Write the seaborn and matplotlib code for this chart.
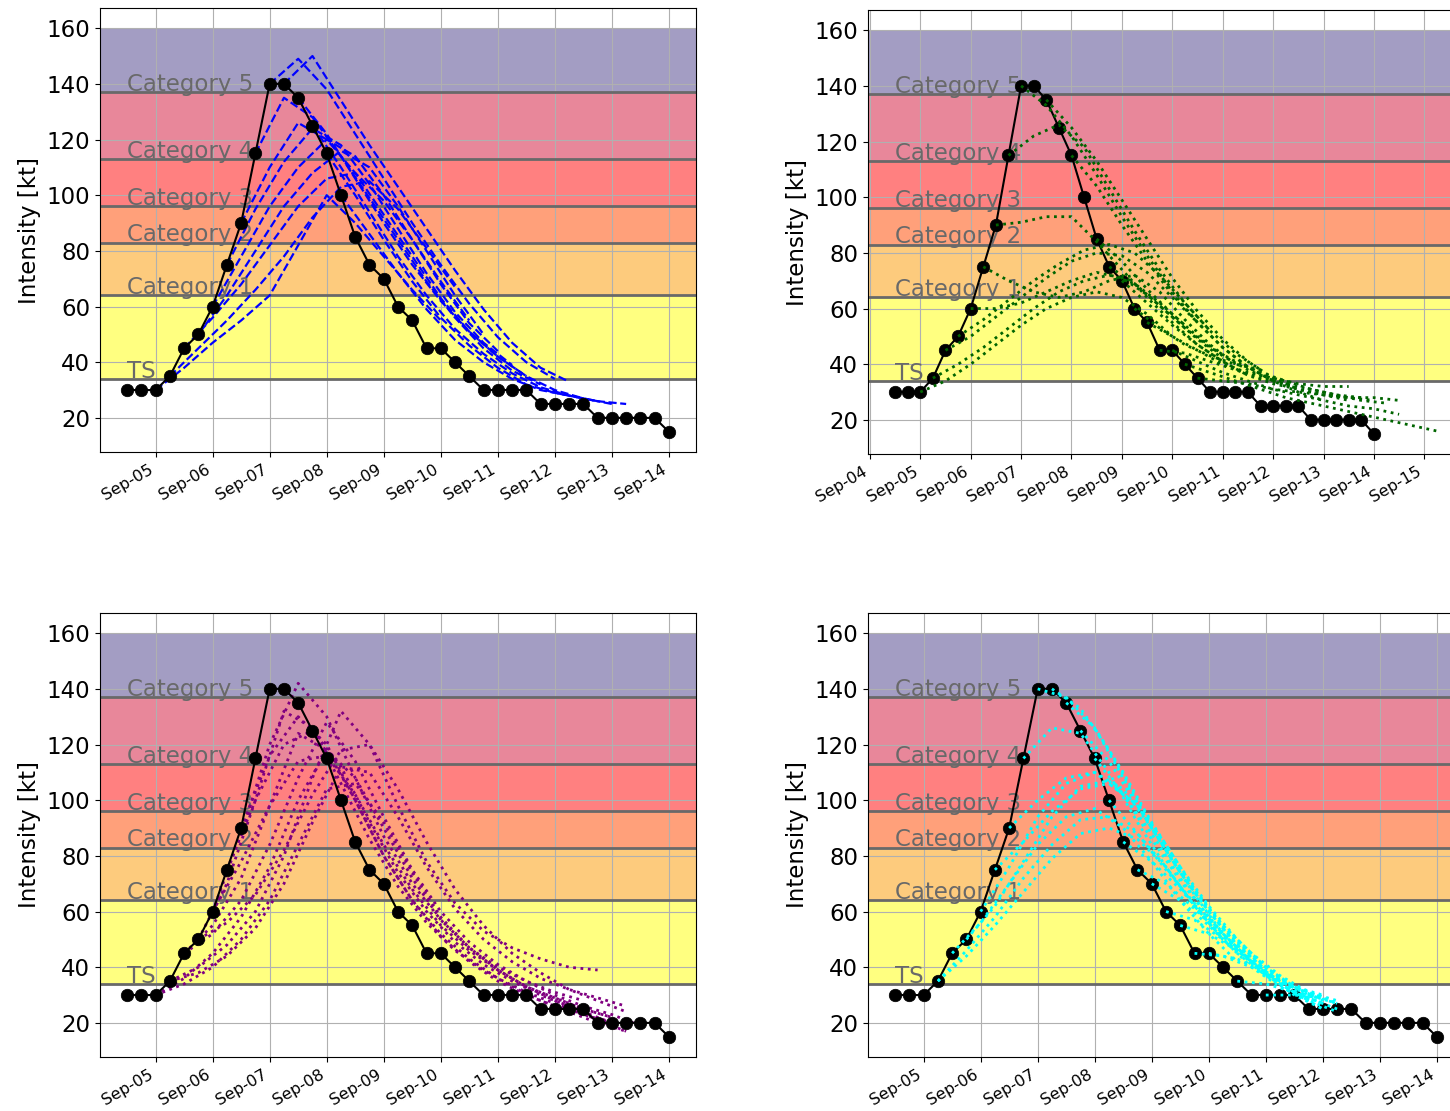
import pandas as pd
import matplotlib
matplotlib.use("Agg")
import matplotlib.pyplot as plt
import matplotlib.dates as mdates
import seaborn as sns

# ---- observed intensity (6-hourly from 2017-09-04 12Z) ----
obs_start = "2017-09-04 12:00"
obs_vmax = [30, 30, 30, 35, 45, 50, 60, 75, 90, 115, 140, 140, 135, 125, 115, 100,
            85, 75, 70, 60, 55, 45, 45, 40, 35, 30, 30, 30, 30, 25, 25, 25, 25,
            20, 20, 20, 20, 20, 15]

# ---- Saffir-Simpson bands ----
cat_bounds = [34, 64, 83, 96, 113, 137, 160]
cat_names = ["TS", "Category 1", "Category 2", "Category 3", "Category 4", "Category 5"]
cat_colors = ["#ffff80", "#fdcb7d", "#ffa07a", "#ff8080", "#e8879a", "#a39dc3"]

# ---- forecasts: index of init time in obs list + 12-hourly intensities ----
blue_init = [2, 3, 4, 5, 6, 7, 8, 9, 10, 11, 12, 13, 14, 15]
blue_vmax = [
    [30, 38, 47, 55, 64, 82, 100, 90, 78, 66, 55],
    [35, 45, 55, 66, 78, 92, 103, 105, 95, 81, 67],
    [45, 56, 68, 82, 96, 106, 108, 98, 84, 69, 55],
    [50, 64, 80, 96, 108, 116, 110, 96, 80, 64, 50],
    [60, 78, 96, 110, 120, 114, 100, 84, 68, 54, 44],
    [75, 95, 112, 124, 118, 104, 88, 72, 58, 47, 39],
    [90, 110, 126, 120, 108, 93, 78, 63, 51, 42, 35],
    [115, 135, 128, 114, 99, 84, 69, 56, 45, 37, 32],
    [140, 149, 138, 122, 106, 90, 75, 61, 49, 40, 34],
    [140, 150, 134, 118, 103, 88, 73, 59, 47, 38, 33],
    [135, 122, 106, 90, 75, 62, 51, 42, 35, 30, 27],
    [125, 110, 94, 78, 64, 52, 43, 36, 31, 28, 26],
    [115, 100, 84, 69, 56, 46, 38, 32, 29, 27, 25],
    [100, 86, 72, 59, 48, 40, 34, 30, 28, 26, 25],
]

green_init = [2, 3, 4, 5, 6, 7, 8, 9, 10, 12, 14, 16, 17, 18, 19, 20, 21, 22, 23, 24]
green_vmax = [
    [30, 34, 40, 47, 54, 60, 64, 66, 64, 58, 50],
    [35, 40, 46, 53, 60, 66, 70, 72, 69, 62, 54],
    [45, 50, 57, 64, 71, 77, 80, 79, 73, 64, 55],
    [50, 56, 63, 70, 76, 81, 83, 80, 72, 62, 52],
    [60, 60, 62, 66, 70, 73, 71, 65, 57, 49, 42],
    [75, 70, 66, 64, 66, 70, 72, 66, 56, 47, 40],
    [90, 91, 93, 93, 84, 74, 64, 55, 47, 41, 36],
    [115, 122, 126, 118, 103, 88, 74, 62, 52, 44, 38],
    [140, 133, 122, 108, 93, 79, 66, 55, 46, 39, 34],
    [135, 125, 113, 99, 85, 71, 59, 49, 41, 35, 31],
    [115, 104, 90, 77, 65, 55, 46, 39, 34, 30, 27],
    [85, 77, 67, 58, 50, 43, 38, 34, 31, 29, 27],
    [75, 69, 61, 53, 46, 41, 37, 34, 31, 29, 28],
    [70, 62, 54, 47, 41, 36, 33, 31, 29, 28, 27],
    [60, 53, 47, 43, 40, 38],
    [55, 50, 45, 40, 37, 35, 33, 32, 32],
    [45, 44, 41, 38, 35, 33, 31, 29, 27, 26],
    [45, 41, 37, 34, 31, 29, 27, 25, 24, 22],
    [40, 37, 34, 31, 28, 26, 24, 22, 20, 18, 16],
    [35, 34, 33, 31, 30, 29, 28, 28, 27],
]

purple_init = [2, 2, 3, 3, 4, 4, 5, 5, 6, 6, 7, 8]
purple_vmax = [
    [30, 34, 40, 50, 64, 84, 104, 106, 92, 74, 58, 47, 39, 33, 29, 25, 22],
    [30, 36, 45, 58, 76, 100, 118, 108, 90, 72, 57, 47, 40, 35, 31, 28],
    [35, 40, 48, 60, 80, 108, 132, 120, 98, 78, 63, 53, 47, 43, 40, 39],
    [35, 38, 44, 54, 70, 92, 112, 110, 94, 76, 61, 50, 42, 36, 32, 29, 26],
    [45, 55, 72, 98, 124, 118, 100, 80, 64, 51, 42, 35, 30, 26, 23, 20],
    [45, 52, 64, 84, 108, 128, 114, 94, 75, 60, 49, 41, 35, 30, 26, 23, 19],
    [50, 70, 100, 132, 126, 106, 86, 69, 56, 46, 39, 33, 28, 24, 20, 17],
    [50, 56, 66, 82, 102, 118, 120, 104, 85, 68, 55, 45, 38, 32, 28, 24],
    [60, 88, 120, 142, 130, 108, 87, 70, 57, 47, 39, 33, 28, 24, 20],
    [60, 78, 98, 114, 116, 102, 84, 68, 55, 46, 39, 33, 29, 25, 22],
    [75, 100, 120, 125, 112, 92, 74, 60, 49, 41, 35, 30, 26, 21, 17],
    [90, 116, 130, 120, 100, 80, 64, 52, 43, 36, 31, 27, 23, 20],
]

cyan_init = [3, 3, 4, 5, 6, 7, 8, 9, 10, 11, 12, 13, 14, 15, 16, 17, 18, 19, 20, 21, 22, 24, 26]
cyan_vmax = [
    [35, 44, 55, 67, 79, 88, 90, 86, 76, 62, 50],
    [35, 46, 58, 72, 84, 93, 94, 88, 76, 62, 50],
    [45, 56, 70, 84, 94, 97, 90, 78, 64, 52, 42],
    [50, 62, 78, 94, 105, 107, 98, 82, 66, 52, 42],
    [60, 76, 94, 106, 110, 104, 90, 74, 60, 48, 39],
    [75, 85, 96, 104, 106, 98, 84, 68, 54, 44, 36],
    [90, 100, 108, 110, 102, 88, 72, 58, 46, 38, 32],
    [115, 126, 124, 110, 92, 76, 62, 50, 40, 33, 28],
    [140, 137, 126, 108, 90, 74, 60, 48, 38, 31, 27],
    [140, 133, 118, 100, 83, 68, 55, 44, 36, 30, 27],
    [135, 126, 110, 92, 76, 62, 50, 40, 33, 28],
    [125, 114, 98, 82, 67, 55, 45, 37, 31, 27],
    [115, 102, 86, 71, 58, 47, 38, 31, 25],
    [100, 88, 75, 63, 52, 42, 34, 28, 24],
    [85, 78, 68, 57, 46, 37, 30, 25],
    [75, 70, 61, 51, 42, 35, 29, 25],
    [70, 64, 55, 45, 37, 31, 27],
    [60, 57, 50, 42, 35, 30, 27],
    [55, 52, 46, 39, 33, 29],
    [45, 44, 40, 35, 31, 28],
    [45, 43, 38, 33, 30],
    [35, 34, 31, 29],
    [30, 30, 29],
]

obs_times = pd.date_range(obs_start, periods=len(obs_vmax), freq="6h")
obs_df = pd.DataFrame({"time": obs_times, "vmax": obs_vmax})


def members_df(inits, vmaxs):
    rows = []
    for m, (i0, vals) in enumerate(zip(inits, vmaxs)):
        t0 = obs_times[i0]
        for j, v in enumerate(vals):
            rows.append((m, t0 + pd.Timedelta(hours=12 * j), v))
    return pd.DataFrame(rows, columns=["member", "time", "vmax"])


def plot_panel(ax, fc, color, ls, lw, fc_on_top):
    # category bands and thresholds
    for lo, hi, c in zip(cat_bounds[:-1], cat_bounds[1:], cat_colors):
        ax.axhspan(lo, hi, color=c, lw=0, zorder=0.3)
    for b in cat_bounds[:-1]:
        ax.axhline(b, color="dimgray", lw=2, zorder=1.8)

    z_fc = 2.6 if fc_on_top else 2.0
    sns.lineplot(data=fc, x="time", y="vmax", units="member", estimator=None,
                 color=color, linestyle=ls, lw=lw, sort=False, legend=False,
                 ax=ax, zorder=z_fc)
    sns.lineplot(data=obs_df, x="time", y="vmax", color="black", lw=1.5,
                 marker="o", markersize=9, markeredgecolor="black",
                 markeredgewidth=0.5, ax=ax, zorder=2.3)

    for b, name in zip(cat_bounds[:-1], cat_names):
        ax.text(obs_times[0], b + 0.4, name, fontsize=16.5, color="dimgray",
                zorder=1.9)

    ax.set_yticks(range(20, 161, 20))
    ax.grid(True, color="#b0b0b0", lw=0.8)
    ax.xaxis.set_major_locator(mdates.DayLocator())
    ax.xaxis.set_major_formatter(mdates.DateFormatter("%b-%d"))
    ax.tick_params(axis="y", labelsize=16.5)
    ax.tick_params(axis="x", labelsize=11.5)
    plt.setp(ax.get_xticklabels(), rotation=30, ha="right")
    ax.set_xlabel("")
    ax.set_ylabel("Intensity [kt]", fontsize=16.5)


sns.set_style("ticks", {"axes.edgecolor": "black", "xtick.color": "black",
                        "ytick.color": "black", "text.color": "black",
                        "axes.labelcolor": "black"})
plt.rcParams["font.family"] = ["DejaVu Sans"]

W, H = 1450, 1111
fig = plt.figure(figsize=(W / 100, H / 100), dpi=100)


def rect(left, top, w=596, h=444):
    return [left / W, 1 - (top + h) / H, w / W, h / H]


ax1 = fig.add_axes(rect(100, 8))
ax2 = fig.add_axes(rect(868, 10))
ax3 = fig.add_axes(rect(100, 613))
ax4 = fig.add_axes(rect(868, 613))

plot_panel(ax1, members_df(blue_init, blue_vmax), "blue", "--", 1.6, False)
plot_panel(ax2, members_df(green_init, green_vmax), "darkgreen", ":", 2.0, True)
plot_panel(ax3, members_df(purple_init, purple_vmax), "purple", ":", 2.0, False)
plot_panel(ax4, members_df(cyan_init, cyan_vmax), "cyan", ":", 2.0, True)

fig.savefig("out.png", dpi=100)
